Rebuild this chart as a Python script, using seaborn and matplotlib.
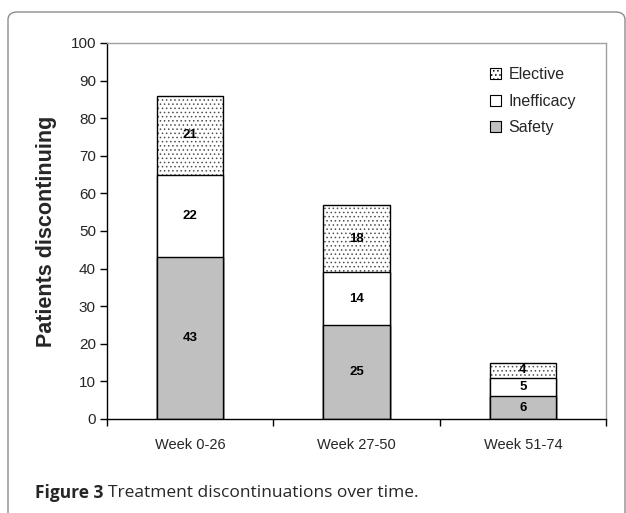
import matplotlib
matplotlib.use("Agg")
import matplotlib.pyplot as plt
import seaborn as sns
import pandas as pd
import numpy as np
from matplotlib.patches import FancyBboxPatch, Patch

categories = ["Week 0-26", "Week 27-50", "Week 51-74"]
safety = [43, 25, 6]
inefficacy = [22, 14, 5]
elective = [21, 18, 4]
series_names = ["Safety", "Inefficacy", "Elective"]
yticks = list(range(0, 101, 10))

sns.set_theme(style="white")
plt.rcParams["font.family"] = ["Liberation Sans", "DejaVu Sans"]
plt.rcParams["hatch.linewidth"] = 0.6

fig = plt.figure(figsize=(6.26, 5.13), dpi=100)
ax = fig.add_axes([107/626, 1-419/513, (606-107)/626, (419-43)/513])

df = pd.DataFrame({"cat": categories, "Safety": safety,
                   "Inefficacy": inefficacy, "Elective": elective})
df["c2"] = df["Safety"] + df["Inefficacy"]
df["c3"] = df["c2"] + df["Elective"]

bw = 0.40
sns.barplot(data=df, x="cat", y="c3", color="white", edgecolor="#505050",
            linewidth=0, width=bw, hatch="....", ax=ax, saturation=1)
sns.barplot(data=df, x="cat", y="c3", fill=False, edgecolor="black",
            linewidth=1.0, width=bw, ax=ax)
sns.barplot(data=df, x="cat", y="c2", color="white", edgecolor="black",
            linewidth=1.0, width=bw, ax=ax, saturation=1)
sns.barplot(data=df, x="cat", y="Safety", color="#c0c0c0", edgecolor="black",
            linewidth=1.0, width=bw, ax=ax, saturation=1)

for i in range(len(categories)):
    bottoms = [0, safety[i], safety[i] + inefficacy[i]]
    vals = [safety[i], inefficacy[i], elective[i]]
    for b, v in zip(bottoms, vals):
        ax.text(i, b + v / 2, str(v), ha="center", va="center",
                fontsize=9.5, fontweight="bold", color="black")

ax.set_xlim(-0.5, 2.5)
ax.set_ylim(0, 100)
ax.set_yticks(yticks)
ax.set_yticklabels([str(t) for t in yticks], fontsize=11)
ax.set_xticks(range(len(categories)))
ax.set_xticklabels(categories, fontsize=10.5)
ax.set_xticks([-0.5, 0.5, 1.5, 2.5], minor=True)
ax.tick_params(axis="x", which="major", length=0, pad=14)
ax.tick_params(axis="x", which="minor", length=5, width=1, color="black", direction="out", bottom=True)
ax.tick_params(axis="y", length=5, width=1, color="black", direction="out", left=True, pad=3)
ax.set_xlabel("")
ax.set_ylabel("Patients discontinuing", fontsize=15.5, fontweight="bold")
ax.yaxis.set_label_coords((57-107)/499, 0.5)

for s in ["left", "bottom"]:
    ax.spines[s].set_color("black")
    ax.spines[s].set_linewidth(1.0)
for s in ["top", "right"]:
    ax.spines[s].set_color("#a0a0a0")
    ax.spines[s].set_linewidth(1.0)

handles = [Patch(facecolor="white", edgecolor="black", hatch="....", linewidth=0.8),
           Patch(facecolor="white", edgecolor="black", linewidth=0.8),
           Patch(facecolor="#c0c0c0", edgecolor="black", linewidth=0.8)]
ax.legend(handles, ["Elective", "Inefficacy", "Safety"], loc="upper left",
          bbox_to_anchor=(0.745, 0.965), frameon=False, fontsize=11.5,
          handlelength=0.7, handleheight=0.7, handletextpad=0.45,
          labelspacing=0.72, borderpad=0.2)

# outer rounded frame
box = FancyBboxPatch((8/626, -0.1), (625-8)/626, 1 - 12/513 + 0.1,
                     boxstyle="round,pad=0,rounding_size=0.015",
                     transform=fig.transFigure, facecolor="none",
                     edgecolor="#8c8c8c", linewidth=1.0, clip_on=False)
fig.patches.append(box)

cap_family = ["Open Sans", "DejaVu Sans"]
t1 = fig.text(35/626, 1-493/513, "Figure 3", fontsize=12.5, fontweight="bold",
              family=cap_family, va="center", ha="left")
fig.canvas.draw()
bb = t1.get_window_extent()
fig.text(bb.x1/626 + 0.007, 1-493/513, "Treatment discontinuations over time.",
         fontsize=12.5, family=cap_family, va="center", ha="left")

fig.savefig("out.png", dpi=100)
